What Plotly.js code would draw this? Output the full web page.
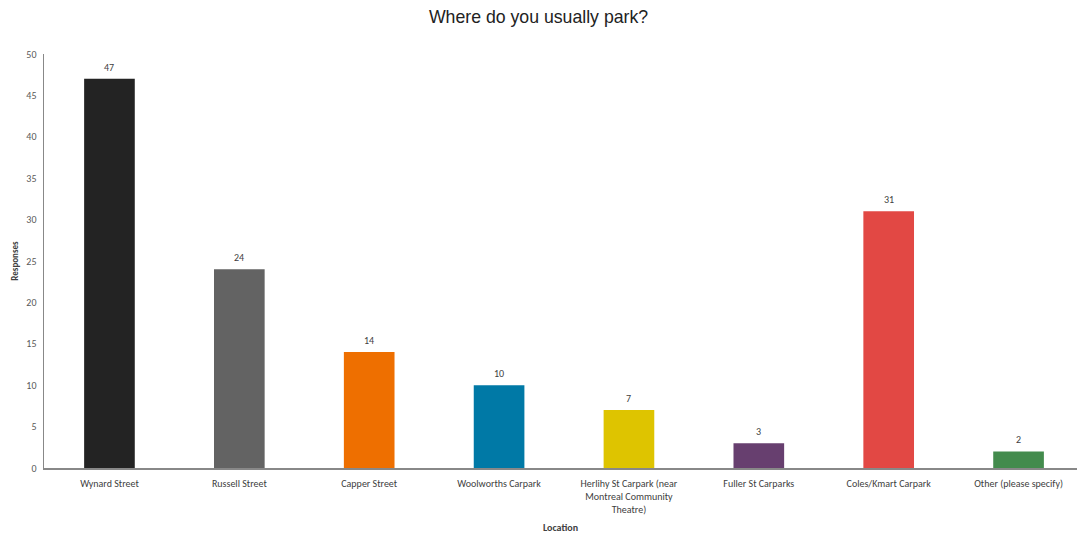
<!DOCTYPE html>
<html>
<head>
<meta charset="utf-8">
<script src="https://cdn.plot.ly/plotly-3.0.1.min.js"></script>
<style>html,body{margin:0;padding:0;background:#fff;}#chart{width:1077px;height:534px;}</style>
</head>
<body>
<div id="chart"></div>
<script>
const categories = ["Wynard Street","Russell Street","Capper Street","Woolworths Carpark","Herlihy St Carpark (near<br>Montreal Community<br>Theatre)","Fuller St Carparks","Coles/Kmart Carpark","Other (please specify)"];
const responses = [47,24,14,10,7,3,31,2];
const barColors = ["#232323","#636363","#EE6F00","#0079A6","#DEC400","#673F6F","#E24844","#438B4D"];
const yTicks = [0,5,10,15,20,25,30,35,40,45,50];

const font = "Carlito, 'Liberation Sans', Arial, sans-serif";
const labels = categories.map((c, i) => ({
  x: i, y: responses[i], xref: "x", yref: "y",
  text: String(responses[i]), showarrow: false,
  yanchor: "bottom", yshift: 3,
  font: {family: font, size: 10, color: "#404040"}
}));
Plotly.newPlot("chart", [{
  type: "bar",
  x: categories,
  y: responses,
  marker: {color: barColors},
  width: 0.39,
  hoverinfo: "x+y"
}], {
  width: 1077, height: 534,
  margin: {l: 44, r: 0, t: 54, b: 66},
  paper_bgcolor: "#fff", plot_bgcolor: "#fff",
  title: {text: "Where do you usually park?", x: 0.5, xanchor: "center", y: 0.968, yanchor: "middle",
          font: {family: "'Liberation Sans', Arial, sans-serif", size: 17.7, color: "#222"}},
  annotations: labels,
  xaxis: {
    range: [-0.504, 7.45],
    showline: true, linecolor: "#888", linewidth: 1.5,
    ticks: "", showgrid: false, zeroline: false,
    tickfont: {family: font, size: 10, color: "#404040"},
    ticklabelstandoff: 5,
    tickangle: 0,
    title: {text: "<b>Location</b>", font: {family: font, size: 10, color: "#404040"}, standoff: 10}
  },
  yaxis: {
    range: [0, 50], tickvals: yTicks, showgrid: false, zeroline: false,
    showline: true, linecolor: "#888", linewidth: 1.5, ticks: "",
    tickfont: {family: font, size: 10, color: "#595959"},
    ticklabelstandoff: 4,
    title: {text: "<b>Responses</b>", font: {family: font, size: 9, color: "#404040"}, standoff: 6}
  },
  showlegend: false
}, {displayModeBar: false, staticPlot: true});
</script>
</body>
</html>
